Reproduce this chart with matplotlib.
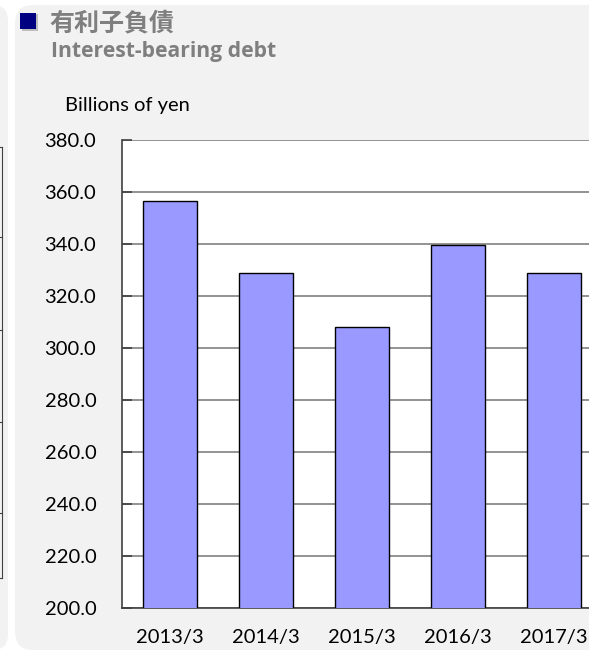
import matplotlib
matplotlib.use("Agg")
import matplotlib.pyplot as plt
from matplotlib.patches import FancyBboxPatch, Rectangle
from matplotlib.lines import Line2D

categories = ["2013/3", "2014/3", "2015/3", "2016/3", "2017/3"]
values = [356.5, 328.9, 308.1, 339.5, 328.8]
yticks = [200, 220, 240, 260, 280, 300, 320, 340, 360, 380]
title_jp = "有利子負債"
title_en = "Interest-bearing debt"
unit_label = "Billions of yen"

W, H = 589, 654
fig = plt.figure(figsize=(W / 100, H / 100), dpi=100)
fig.patch.set_facecolor("white")

def fx(px):
    return px / W

def fy(py):
    return 1 - py / H

# background panels
panel = FancyBboxPatch((fx(15), fy(650)), fx(620), fy(5) - fy(650),
                       boxstyle="round,pad=0,rounding_size=0.03",
                       transform=fig.transFigure, facecolor="#f2f2f2",
                       edgecolor="none", zorder=0)
fig.patches.append(panel)
left_panel = FancyBboxPatch((fx(-40), fy(650)), fx(48), fy(5) - fy(650),
                            boxstyle="round,pad=0,rounding_size=0.025",
                            transform=fig.transFigure, facecolor="#f2f2f2",
                            edgecolor="none", zorder=0)
fig.patches.append(left_panel)
# fragment of neighbouring chart
fig.lines.append(Line2D([fx(2), fx(2)], [fy(147), fy(578)], transform=fig.transFigure,
                        color="#404040", lw=0.8))
for yy in [147, 237, 330, 422, 513, 578]:
    fig.lines.append(Line2D([fx(0), fx(2)], [fy(yy), fy(yy)], transform=fig.transFigure,
                            color="#404040", lw=0.8))

# title marker
fig.patches.append(Rectangle((fx(22), fy(31)), fx(16), fy(14) - fy(31), transform=fig.transFigure,
                             facecolor="#9a9a9a", edgecolor="none", zorder=1, alpha=0.6))
fig.patches.append(Rectangle((fx(20), fy(29)), fx(16), fy(13) - fy(29), transform=fig.transFigure,
                             facecolor="#000080", edgecolor="none", zorder=2))

fig.text(fx(49), fy(23), title_jp, fontsize=18, fontweight="bold", color="#7f7f7f",
         family=["Noto Sans CJK JP", "DejaVu Sans"], va="center", ha="left")
fig.text(fx(51), fy(51), title_en, fontsize=15.2, fontweight="bold", color="#7f7f7f",
         family=["Open Sans", "DejaVu Sans"], va="center", ha="left")
fig.text(fx(65), fy(106), unit_label, fontsize=14.5, color="black",
         family=["Lato", "DejaVu Sans"], va="center", ha="left")

ax = fig.add_axes([fx(122), fy(607.7), fx(602) - fx(122), fy(140) - fy(607.7)], zorder=5)
ax.set_facecolor("white")
x = list(range(len(categories)))
ax.bar(x, values, width=0.56, color="#9999ff", edgecolor="black", linewidth=1.0, zorder=3)
ax.set_xlim(-0.5, len(categories) - 0.5)
ax.set_ylim(200, 380)
ax.set_yticks(yticks)
ax.set_yticklabels([f"{v:.1f}" for v in yticks], family=["Lato", "DejaVu Sans"], fontsize=14.5)
ax.set_xticks(x)
ax.set_xticklabels(categories, family=["Lato", "DejaVu Sans"], fontsize=14.5)
ax.yaxis.grid(True, color="#808080", lw=1.2, zorder=1)
ax.set_axisbelow(True)
ax.tick_params(axis="y", direction="in", length=7, width=1.2, color="#404040", pad=18.5)
ax.tick_params(axis="x", length=0, pad=15)
for s in ["top", "right"]:
    ax.spines[s].set_visible(False)
ax.spines["left"].set_color("#404040")
ax.spines["left"].set_linewidth(1.2)
ax.spines["bottom"].set_color("#404040")
ax.spines["bottom"].set_linewidth(1.2)

fig.savefig("out.png", dpi=100)
